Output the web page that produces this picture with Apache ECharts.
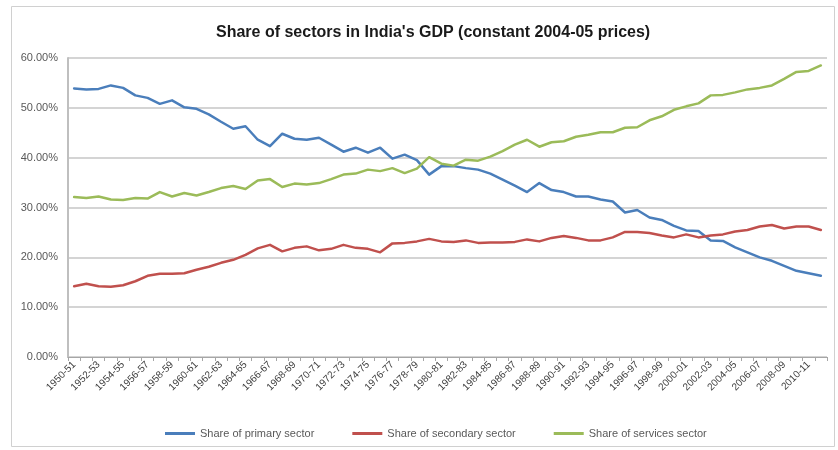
<!DOCTYPE html>
<html>
<head>
<meta charset="utf-8">
<script src="https://cdn.jsdelivr.net/npm/echarts@6/dist/echarts.min.js"></script>
<style>html,body{margin:0;padding:0;background:#fff}#c{width:838px;height:450px}</style>
</head>
<body>
<div id="c"></div>
<script>
const categories = (function(){
  const out = [];
  for (let y = 1950; y <= 2011; y++) {
    out.push(y + '-' + String((y + 1) % 100).padStart(2, '0'));
  }
  return out;
})();

const primary = [
  53.9, 53.7, 53.8, 54.5, 54.0, 52.5, 52.0, 50.8, 51.5, 50.1,
  49.8, 48.7, 47.2, 45.8, 46.3, 43.6, 42.3, 44.8, 43.8, 43.6,
  44.0, 42.6, 41.2, 42.0, 41.0, 42.0, 39.8, 40.6, 39.5, 36.6,
  38.3, 38.3, 37.9, 37.6, 36.8, 35.6, 34.4, 33.1, 34.9, 33.5,
  33.1, 32.2, 32.2, 31.6, 31.2, 29.0, 29.5, 28.0, 27.5, 26.3,
  25.4, 25.3, 23.4, 23.3, 22.0, 21.0, 20.0, 19.3, 18.3, 17.3,
  16.8, 16.3
];

const secondary = [
  14.2, 14.7, 14.2, 14.1, 14.4, 15.2, 16.3, 16.7, 16.7, 16.8,
  17.5, 18.1, 18.9, 19.5, 20.5, 21.8, 22.5, 21.2, 21.9, 22.2,
  21.4, 21.7, 22.5, 21.9, 21.7, 21.0, 22.8, 22.9, 23.2, 23.7,
  23.2, 23.1, 23.4, 22.9, 23.0, 23.0, 23.1, 23.6, 23.2, 23.9,
  24.3, 23.9, 23.4, 23.4, 24.0, 25.1, 25.1, 24.9, 24.4, 24.0,
  24.6, 24.0, 24.4, 24.6, 25.2, 25.5, 26.2, 26.5, 25.8, 26.2,
  26.2, 25.5
];

const services = [
  32.1, 31.9, 32.2, 31.6, 31.5, 31.9, 31.8, 33.1, 32.2, 32.9,
  32.4, 33.1, 33.9, 34.3, 33.7, 35.4, 35.7, 34.1, 34.8, 34.6,
  34.9, 35.7, 36.6, 36.8, 37.6, 37.3, 37.9, 36.9, 37.8, 40.1,
  38.8, 38.4, 39.6, 39.4, 40.2, 41.3, 42.6, 43.6, 42.2, 43.1,
  43.3, 44.2, 44.6, 45.1, 45.1, 46.0, 46.1, 47.5, 48.3, 49.6,
  50.3, 50.9, 52.5, 52.6, 53.1, 53.7, 54.0, 54.5, 55.8, 57.2,
  57.4, 58.5
];

const seriesNames = ['Share of primary sector', 'Share of secondary sector', 'Share of services sector'];
const yTicks = [0, 10, 20, 30, 40, 50, 60];

const chart = echarts.init(document.getElementById('c'), null, {renderer: 'canvas'});
const mk = (name, data, color) => ({
  name, type: 'line', data, symbol: 'none', smooth: false,
  lineStyle: {color, width: 2.5, join: 'round', cap: 'round'}, itemStyle: {color}
});
chart.setOption({
  backgroundColor: '#fff',
  animation: false,
  title: {
    text: "Share of sectors in India's GDP (constant 2004-05 prices)",
    left: 211, top: 20,
    textStyle: {fontFamily: 'Liberation Sans, Arial, sans-serif', fontSize: 16, fontWeight: 'bold', color: '#1a1a1a'}
  },
  graphic: [{
    type: 'rect', silent: true, z: -1,
    shape: {x: 11.5, y: 6.5, width: 823, height: 440},
    style: {fill: 'none', stroke: '#d0d0d0', lineWidth: 1}
  }],
  legend: {
    data: seriesNames, left: 160, top: 423, itemGap: 38,
    icon: 'rect', itemWidth: 30, itemHeight: 3,
    textStyle: {fontFamily: 'Liberation Sans, Arial, sans-serif', fontSize: 11, color: '#595959'}
  },
  grid: {left: 68, right: 11, top: 58, bottom: 93},
  xAxis: {
    type: 'category', data: categories, boundaryGap: true,
    axisLine: {lineStyle: {color: '#a6a6a6', width: 1}},
    axisTick: {show: true, interval: 0, length: 4, inside: false, lineStyle: {color: '#a6a6a6'}},
    axisLabel: {interval: 1, rotate: 45, fontSize: 10, color: '#404040', margin: 6,
      fontFamily: 'Liberation Sans, Arial, sans-serif'}
  },
  yAxis: {
    type: 'value', min: yTicks[0], max: yTicks[yTicks.length - 1], interval: 10,
    axisLine: {show: true, lineStyle: {color: '#bfbfbf', width: 2}},
    axisTick: {show: false},
    splitLine: {lineStyle: {color: '#d4d4d4', width: 2}},
    axisLabel: {fontSize: 11, color: '#595959', margin: 10,
      fontFamily: 'Liberation Sans, Arial, sans-serif',
      formatter: v => v.toFixed(2) + '%'}
  },
  series: [
    mk(seriesNames[0], primary, '#4A7EBB'),
    mk(seriesNames[1], secondary, '#C0504D'),
    mk(seriesNames[2], services, '#9BBB59')
  ]
});
</script>
</body>
</html>
